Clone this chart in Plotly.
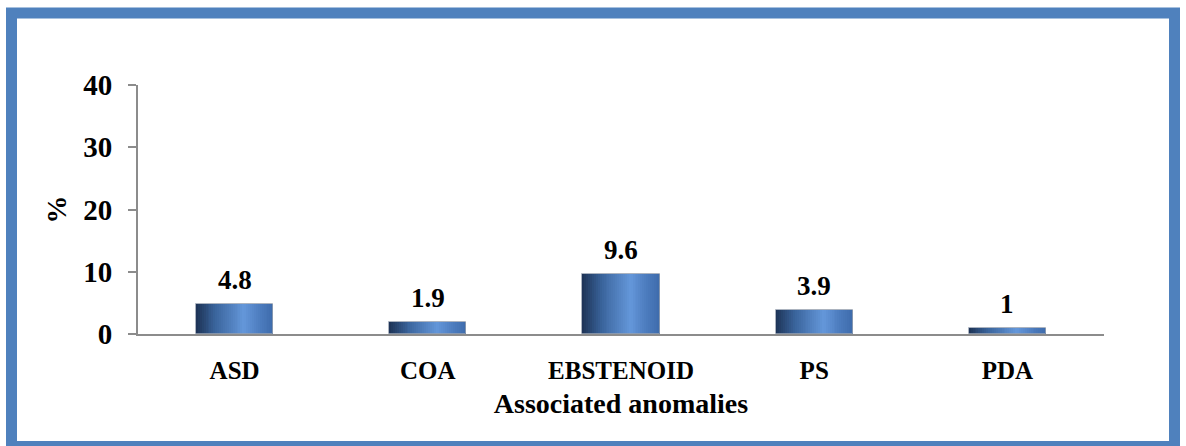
import plotly.graph_objects as go

# Associated anomalies (% of patients)
categories = ["ASD", "COA", "EBSTENOID", "PS", "PDA"]
values = [4.8, 1.9, 9.6, 3.9, 1]
value_labels = ["4.8", "1.9", "9.6", "3.9", "1"]
y_ticks = [0, 10, 20, 30, 40]

FONT = "Liberation Serif"
BAR_W = 0.4
N_STRIPES = 40

# colour stops across the bar width (cylinder shading)
stops = [
    (0.00, (28, 50, 84)),
    (0.25, (58, 100, 156)),
    (0.62, (100, 151, 218)),
    (0.85, (74, 121, 187)),
    (1.00, (62, 108, 172)),
]


def shade(t):
    for (t0, c0), (t1, c1) in zip(stops[:-1], stops[1:]):
        if t0 <= t <= t1:
            f = (t - t0) / (t1 - t0)
            return "rgb(%d,%d,%d)" % tuple(round(a + (b - a) * f) for a, b in zip(c0, c1))
    return "rgb(%d,%d,%d)" % stops[-1][1]


fig = go.Figure()
step = BAR_W / N_STRIPES
for i in range(N_STRIPES):
    fig.add_trace(go.Bar(
        x=categories, y=values,
        width=BAR_W - i * step,
        offset=-BAR_W / 2 + i * step,
        marker=dict(color=shade((i + 0.5) / N_STRIPES), line=dict(width=0)),
        hoverinfo="skip", showlegend=False,
    ))

# outline on top of the shaded bars
fig.add_trace(go.Bar(
    x=categories, y=values, width=BAR_W, offset=-BAR_W / 2,
    marker=dict(color="rgba(0,0,0,0)", line=dict(color="rgba(150,160,175,0.8)", width=1)),
    showlegend=False,
))

for c, v, t in zip(categories, values, value_labels):
    fig.add_annotation(
        x=c, y=v, text=t, showarrow=False, yanchor="bottom", yshift=7,
        font=dict(family=FONT, size=27, color="black", weight="bold"),
    )

fig.update_layout(
    width=1186, height=446,
    margin=dict(l=138, r=82, t=85, b=112),
    paper_bgcolor="white", plot_bgcolor="white",
    barmode="overlay", bargap=0,
    font=dict(family=FONT, color="black", weight="bold"),
    xaxis=dict(
        showline=True, linecolor="#8c8c8c", linewidth=2,
        ticks="", showgrid=False, zeroline=False,
        tickfont=dict(family=FONT, size=25, weight="bold"),
        ticklabelstandoff=13,
        title=dict(text="Associated anomalies", standoff=10,
                   font=dict(family=FONT, size=28, weight="bold")),
    ),
    yaxis=dict(
        range=[0, 40], tickvals=y_ticks,
        showline=True, linecolor="#8c8c8c", linewidth=2,
        ticks="outside", ticklen=8, tickwidth=2, tickcolor="#8c8c8c",
        showgrid=False, zeroline=False,
        tickfont=dict(family=FONT, size=29, weight="bold"),
        ticklabelstandoff=10,
        title=dict(text="%", standoff=8,
                   font=dict(family=FONT, size=28, weight="bold")),
    ),
    shapes=[dict(
        type="rect", xref="paper", yref="paper",
        x0=(11.5 - 138) / 966, x1=(1174.5 - 138) / 966,
        y0=(334 - 446.5) / 249, y1=(334 - 13) / 249,
        line=dict(color="#4f81bd", width=11), fillcolor="rgba(0,0,0,0)",
        layer="above",
    )],
)

fig.write_html("out.html")
